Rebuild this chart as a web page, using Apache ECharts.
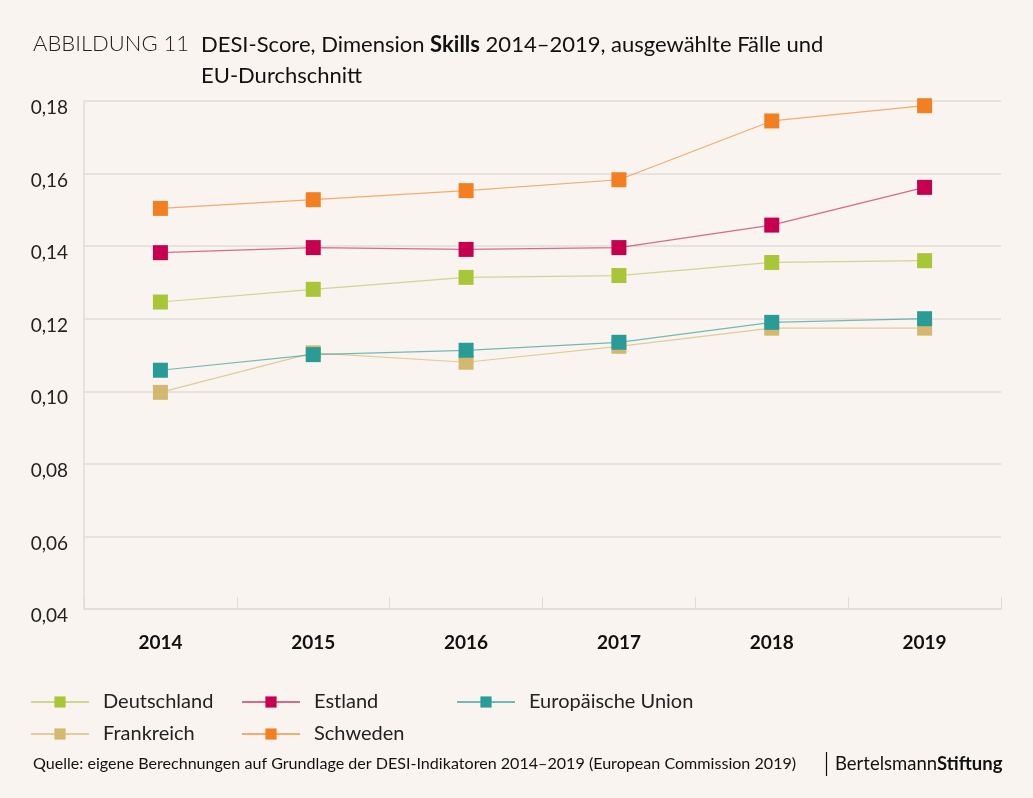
<!DOCTYPE html>
<html><head><meta charset="utf-8">
<script src="https://cdn.jsdelivr.net/npm/echarts@6/dist/echarts.min.js"></script>
<style>html,body{margin:0;padding:0;background:#f9f4f0;}#c{width:1033px;height:798px;}</style>
</head><body><div id="c"></div>
<script>
const years = ['2014','2015','2016','2017','2018','2019'];
const deutschland = [0.1246, 0.1281, 0.1314, 0.1319, 0.1355, 0.1360];
const estland = [0.1382, 0.1396, 0.1391, 0.1396, 0.1458, 0.1562];
const eu = [0.1058, 0.1101, 0.1113, 0.1135, 0.1190, 0.1200];
const frankreich = [0.0997, 0.1106, 0.1080, 0.1124, 0.1174, 0.1174];
const schweden = [0.1504, 0.1528, 0.1553, 0.1583, 0.1745, 0.1787];
const yTicks = {min: 0.04, max: 0.18, step: 0.02};

const F = 'Lato, "Noto Sans", sans-serif';
const colors = {
  Deutschland: ['#a9c638', 'rgba(190,205,110,0.75)'],
  Estland: ['#c6004e', 'rgba(200,60,110,0.75)'],
  'Europäische Union': ['#2a9c98', 'rgba(60,160,155,0.7)'],
  Frankreich: ['#d3b96f', 'rgba(215,195,130,0.8)'],
  Schweden: ['#f28020', 'rgba(240,160,90,0.85)']
};
function mk(name, data, z) {
  return {
    name, type: 'line', data, symbol: 'rect', symbolSize: 15, z,
    itemStyle: {color: colors[name][0]},
    lineStyle: {color: colors[name][1], width: 1.2},
    emphasis: {disabled: true}
  };
}
function leg(name, left, top) {
  return {
    data: [name], left, top, padding: 0, itemWidth: 58, itemHeight: 14,
    textStyle: {fontFamily: F, fontSize: 20, color: '#222', padding: [0,0,0,9]},
    selectedMode: false
  };
}
const chart = echarts.init(document.getElementById('c'));
chart.setOption({
  backgroundColor: '#f9f4f0',
  animation: false,
  title: [
    {text: 'ABBILDUNG 11', left: 33, top: 33, padding: 0, textStyle: {fontFamily: F, fontWeight: 300, fontSize: 22, color: '#222'}},
    {text: 'DESI-Score, Dimension {b|Skills} 2014–2019, ausgewählte Fälle und\nEU-Durchschnitt', left: 201, top: 29, padding: 0,
     textStyle: {fontFamily: F, fontWeight: 'normal', fontSize: 22, color: '#111', lineHeight: 31,
       rich: {b: {fontFamily: F, fontWeight: 'bold', fontSize: 22, color: '#111', lineHeight: 31}}}},
    {text: 'Quelle: eigene Berechnungen auf Grundlage der DESI-Indikatoren 2014–2019 (European Commission 2019)', left: 33, top: 756, padding: 0,
     textStyle: {fontFamily: F, fontWeight: 'normal', fontSize: 16.1, color: '#111'}},
    {text: 'Bertelsmann{b|Stiftung}', left: 835, top: 755, padding: 0,
     textStyle: {fontFamily: F, fontWeight: 'normal', fontSize: 18.5, color: '#111',
       rich: {b: {fontFamily: F, fontWeight: 'bold', fontSize: 18.5, color: '#111'}}}}
  ],
  graphic: [{type: 'line', shape: {x1: 826.5, y1: 752, x2: 826.5, y2: 776}, style: {stroke: '#111', lineWidth: 1.2}}],
  legend: [
    leg('Deutschland', 30, 692), leg('Estland', 241, 692), leg('Europäische Union', 456, 692),
    leg('Frankreich', 30, 724), leg('Schweden', 241, 724)
  ],
  grid: {left: 84, right: 32, top: 101, bottom: 189, containLabel: false},
  xAxis: {
    type: 'category', data: years, boundaryGap: true,
    axisLine: {show: true, lineStyle: {color: '#e0ddd8', width: 1.5}},
    axisTick: {show: true, inside: true, length: 12, lineStyle: {color: '#e0ddd8'}},
    axisLabel: {fontFamily: F, fontWeight: 'bold', fontSize: 19, color: '#111', margin: 24},
    splitLine: {show: false}
  },
  yAxis: {
    type: 'value', min: yTicks.min, max: yTicks.max, interval: yTicks.step,
    axisLine: {show: true, lineStyle: {color: '#e0ddd8', width: 1.5}},
    axisTick: {show: false},
    axisLabel: {fontFamily: F, fontSize: 19, color: '#222', margin: 16, verticalAlign: 'top', lineHeight: 14,
      formatter: v => v.toFixed(2).replace('.', ',')},
    splitLine: {show: true, lineStyle: {color: '#e0ddd8', width: 1.5}}
  },
  series: [
    mk('Deutschland', deutschland, 2),
    mk('Estland', estland, 3),
    mk('Frankreich', frankreich, 2),
    mk('Europäische Union', eu, 4),
    mk('Schweden', schweden, 5)
  ]
});
</script></body></html>
